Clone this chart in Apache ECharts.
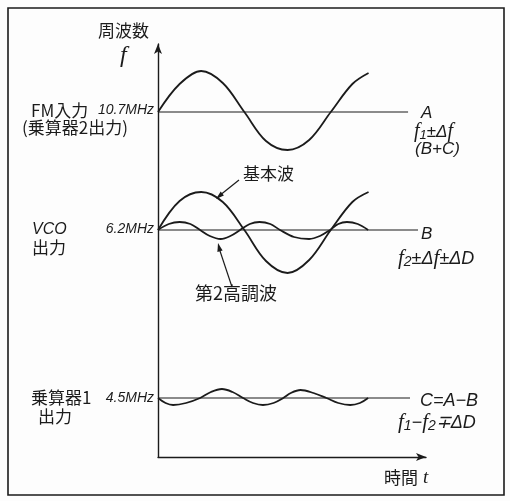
<!DOCTYPE html>
<html lang="ja" style="height: 100%">
<head>
  <meta charset="utf-8">
</head>
<body style="height: 100%; margin: 0; background: #fdfdfd">
  <div id="container" style="width: 510px; height: 501px"></div>
  <script type="text/javascript" src="https://cdn.jsdelivr.net/npm/echarts@6/dist/echarts.min.js"></script>
  <script type="text/javascript">
    // time axis: 1 unit = 1/8 of the fundamental period
    var xFund = [0, 1, 2, 3, 4, 5, 6, 7, 8, 9, 9.75];
    var waveA = [34.5, 37.3, 38.6, 37.4, 34.5, 31.6, 30.7, 31.7, 34.5, 37.3, 38.4];
    var waveB = [22.7, 25.6, 26.5, 25.5, 22.7, 19.6, 18.4, 19.7, 22.7, 25.5, 26.5];

    var xHarm = [0, 0.5, 1.0, 1.5, 1.95, 2.4, 2.9, 3.35, 3.8, 4.25, 4.7, 5.2, 5.65, 6.3, 7.0, 7.5, 7.97, 8.35, 8.75, 9.25, 9.73];
    var harmB = [22.7, 23.3, 23.5, 23.3, 22.7, 22.1, 21.8, 22.1, 22.7, 23.3, 23.5, 23.3, 22.7, 22.0, 21.8, 22.1, 22.7, 23.3, 23.5, 23.3, 22.7];

    var xC = [0, 0.35, 0.7, 1.3, 1.95, 2.45, 2.96, 3.45, 3.94, 4.4, 4.86, 5.35, 5.8, 6.15, 6.6, 7.2, 7.8, 8.35, 8.9, 9.35, 9.73];
    var waveC = [5.9, 5.4, 5.2, 5.4, 5.9, 6.5, 6.8, 6.5, 5.9, 5.4, 5.2, 5.4, 5.9, 6.4, 6.7, 6.4, 5.9, 5.4, 5.2, 5.4, 5.9];

    // carrier levels A, B, C and where their lines stop
    var baseNames = ['A', 'B', 'C'];
    var baseLevels = [34.5, 22.7, 5.9];
    var baseEnds = [11.58, 12.04, 11.67];

    var ink = '#1b1b1b';
    var jp = "'Noto Sans CJK JP', sans-serif";
    var it = "'Liberation Sans Narrow', 'Liberation Sans', sans-serif";
    var serif = "'Liberation Serif', 'DejaVu Serif', serif";

    function pairs(xs, ys) {
      return xs.map(function (x, i) { return [x, ys[i]]; });
    }

    var dom = document.getElementById('container');
    var myChart = echarts.init(dom, null, { renderer: 'canvas' });

    var series = [];
    baseNames.forEach(function (n, i) {
      series.push({
        name: n, type: 'line', symbol: 'none',
        lineStyle: { color: ink, width: 1.2 },
        data: [[0, baseLevels[i]], [baseEnds[i], baseLevels[i]]]
      });
    });
    [[xFund, waveA], [xFund, waveB], [xHarm, harmB], [xC, waveC]].forEach(function (s) {
      series.push({
        type: 'line', smooth: 0.35, symbol: 'none',
        lineStyle: { color: ink, width: 1.8 },
        data: pairs(s[0], s[1])
      });
    });

    function txt(x, y, text, size, font, style) {
      return {
        type: 'text', left: x, top: y,
        style: {
          text: text, fill: ink, fontSize: size, fontFamily: font,
          fontStyle: style || 'normal', verticalAlign: 'middle'
        }
      };
    }
    // labels that end just left of the frequency axis
    function rtxt(y, text) {
      return {
        type: 'text', right: 510 - 154, top: y,
        style: { text: text, fill: ink, fontSize: 14, fontFamily: it, fontStyle: 'italic' }
      };
    }
    function rich(x, y, text, size) {
      return {
        type: 'text', left: x, top: y,
        style: {
          text: text, fill: ink, fontSize: size, fontFamily: it, fontStyle: 'italic',
          rich: {
            f: { fontSize: size + 3, fontFamily: serif, fontStyle: 'italic', fill: ink },
            s: { fontSize: size - 4, fontFamily: it, fontStyle: 'italic', fill: ink, verticalAlign: 'bottom', padding: [6, 0, 0, 0] }
          }
        }
      };
    }

    var option = {
      animation: false,
      backgroundColor: '#fdfdfd',
      grid: { left: 158, right: 84, top: 44, bottom: 44, containLabel: false },
      xAxis: {
        type: 'value', min: 0, max: 12.41,
        axisLine: { lineStyle: { color: ink, width: 1.4 }, symbol: ['none', 'arrow'], symbolSize: [6, 10] },
        axisTick: { show: false }, axisLabel: { show: false }, splitLine: { show: false }
      },
      yAxis: {
        type: 'value', min: 0, max: 41.3,
        axisLine: { show: true, lineStyle: { color: ink, width: 1.4 }, symbol: ['none', 'arrow'], symbolSize: [6, 10] },
        axisTick: { show: false }, axisLabel: { show: false }, splitLine: { show: false }
      },
      series: series,
      graphic: [
        { type: 'rect', shape: { x: 8, y: 8, width: 496, height: 487 }, style: { fill: 'none', stroke: ink, lineWidth: 1.6 } },
        // axis titles
        txt(98, 22, '周波数', 17, jp),
        txt(120, 44, 'f', 24, serif, 'italic'),
        txt(384, 469, '時間', 17, jp),
        txt(423, 468, 't', 19, serif, 'italic'),
        // left labels
        txt(31, 102, 'FM入力', 17, jp),
        rtxt(103, '10.7MHz'),
        txt(22, 119, '(乗算器2出力)', 17, jp),
        txt(32, 222, 'VCO', 16, it, 'italic'),
        rtxt(222, '6.2MHz'),
        txt(32, 239, '出力', 17, jp),
        txt(31, 389, '乗算器1', 17, jp),
        rtxt(391, '4.5MHz'),
        txt(38, 408, '出力', 17, jp),
        // wave names
        txt(243, 165, '基本波', 17, jp),
        txt(195, 284, '第2高調波', 18, jp),
        // right labels
        txt(421, 105, 'A', 17, it, 'italic'),
        rich(414, 122, '{f|f}{s|1}±Δ{f|f}', 17),
        txt(415, 141, '(B+C)', 17, it, 'italic'),
        txt(421, 226, 'B', 17, it, 'italic'),
        rich(398, 248, '{f|f}{s|2}±Δ{f|f}±ΔD', 18),
        txt(420, 392, 'C=A−B', 18, it, 'italic'),
        rich(398, 412, '{f|f}{s|1}−{f|f}{s|2}∓ΔD', 18),
        // pointer lines
        { type: 'line', shape: { x1: 239, y1: 180, x2: 219, y2: 196 }, style: { stroke: ink, lineWidth: 1.2 } },
        { type: 'polygon', shape: { points: [[216, 199], [223.9, 195.4], [220.7, 191.6]] }, style: { fill: ink } },
        { type: 'line', shape: { x1: 232, y1: 287, x2: 219, y2: 248 }, style: { stroke: ink, lineWidth: 1.2 } },
        { type: 'polygon', shape: { points: [[218, 243], [222.6, 250.4], [217.4, 252]] }, style: { fill: ink } }
      ]
    };

    if (option && typeof option === 'object') {
      myChart.setOption(option);
    }
    window.addEventListener('resize', myChart.resize);
  </script>
</body>
</html>
